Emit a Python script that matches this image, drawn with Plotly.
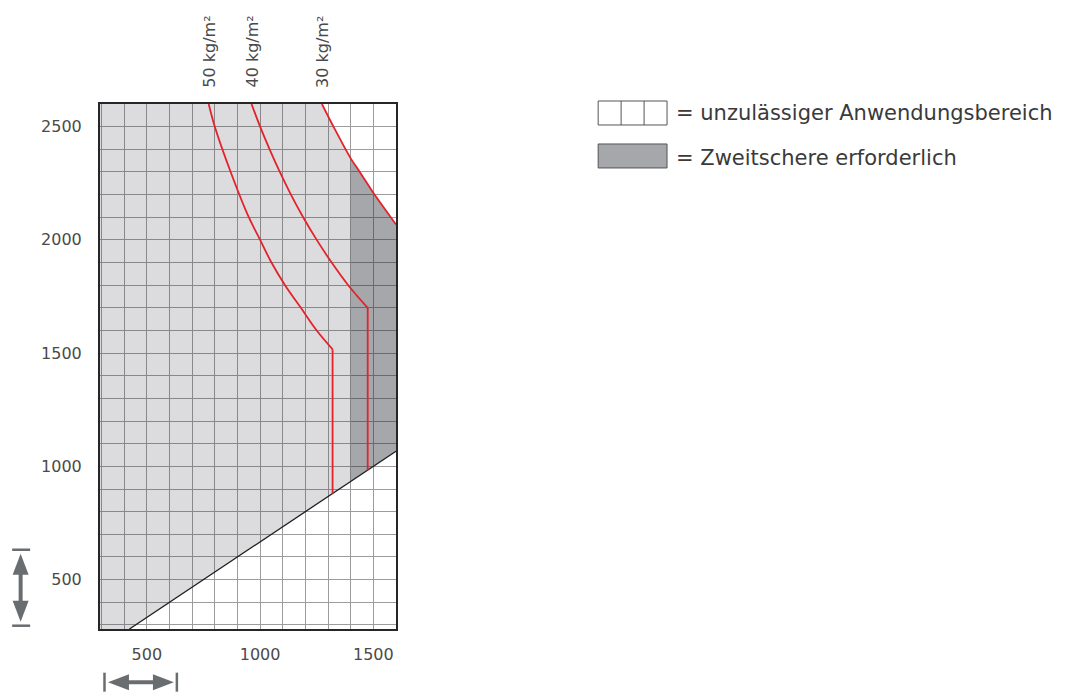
import plotly.graph_objects as go

# Axis extents (mm)
X_RANGE = [293, 1600]
Y_RANGE = [282, 2600]

# Limit curves: width (x) / height (y) in mm
curve50_x = [773, 800, 870, 950, 1000, 1050, 1110, 1180, 1250, 1320, 1320]
curve50_y = [2600, 2500, 2300, 2100, 2000, 1900, 1800, 1700, 1600, 1517, 880]

curve40_x = [962, 1000, 1042, 1087, 1136, 1190, 1250, 1316, 1389, 1475, 1475]
curve40_y = [2600, 2500, 2400, 2300, 2200, 2100, 2000, 1900, 1800, 1700, 983]

curve30_x = [1273, 1324, 1400, 1440, 1505, 1577, 1600]
curve30_y = [2600, 2500, 2360, 2300, 2200, 2100, 2068]

# Lower boundary of the admissible range
diag_x = [423, 1400, 1600]
diag_y = [282, 933, 1067]

# Start of the zone where a second scissor arm is needed
split_x = 1400

curve_labels = ["50 kg/m²", "40 kg/m²", "30 kg/m²"]
legend_texts = ["= unzulässiger Anwendungsbereich", "= Zweitschere erforderlich"]

FONT = "DejaVu Sans"
TEXT = "#4a4a4a"
RED = "#e3232b"
ARROW = "#6a6d70"
LIGHT_FILL = "rgba(30,35,45,0.155)"
DARK_FILL = "rgba(30,35,45,0.40)"

fig = go.Figure()

# Admissible area left of the split
i_split = curve30_x.index(split_x)
d_split = diag_x.index(split_x)
light_x = [X_RANGE[0], X_RANGE[0]] + curve30_x[: i_split + 1] + [split_x] + diag_x[:d_split][::-1]
light_y = [Y_RANGE[0], Y_RANGE[1]] + curve30_y[: i_split + 1] + [diag_y[d_split]] + diag_y[:d_split][::-1]
fig.add_trace(go.Scatter(x=light_x, y=light_y, fill="toself", fillcolor=LIGHT_FILL,
                         mode="none", hoverinfo="skip"))

# Area requiring a second scissor arm
dark_x = curve30_x[i_split:] + diag_x[d_split:][::-1]
dark_y = curve30_y[i_split:] + diag_y[d_split:][::-1]
fig.add_trace(go.Scatter(x=dark_x, y=dark_y, fill="toself", fillcolor=DARK_FILL,
                         mode="none", hoverinfo="skip"))

# Diagonal boundary
fig.add_trace(go.Scatter(x=diag_x, y=diag_y, mode="lines",
                         line=dict(color="#1e1e1e", width=1.3), hoverinfo="skip"))

# Weight curves: smooth hyperbolic part, then the straight vertical drop
for cx, cy in [(curve50_x, curve50_y), (curve40_x, curve40_y)]:
    fig.add_trace(go.Scatter(x=cx[:-1], y=cy[:-1], mode="lines",
                             line=dict(color=RED, width=1.8, shape="spline", smoothing=1.0),
                             hoverinfo="skip"))
    fig.add_trace(go.Scatter(x=cx[-2:], y=cy[-2:], mode="lines",
                             line=dict(color=RED, width=1.8), hoverinfo="skip"))
fig.add_trace(go.Scatter(x=curve30_x, y=curve30_y, mode="lines",
                         line=dict(color=RED, width=1.8, shape="spline", smoothing=1.0),
                         hoverinfo="skip"))

# Rotated labels above each curve
for lab, cx in zip(curve_labels, [curve50_x[0], curve40_x[0], curve30_x[0]]):
    fig.add_annotation(x=cx, y=1, xref="x", yref="paper", text=lab, showarrow=False,
                       textangle=-90, xanchor="center", yanchor="bottom", yshift=14,
                       font=dict(family=FONT, size=16, color=TEXT))

# Pixel -> paper helpers for the decorations outside the plot area
L, T, W, H = 100, 104, 296.5, 525.3


def px(x):
    return (x - L) / W


def py(y):
    return (T + H - y) / H


shapes = []
# Legend row 1: three empty cells
shapes.append(dict(type="rect", xref="paper", yref="paper", x0=px(599), x1=px(668),
                   y0=py(125), y1=py(101), line=dict(color="#555", width=1), fillcolor="white"))
for xc in (622, 645):
    shapes.append(dict(type="line", xref="paper", yref="paper", x0=px(xc), x1=px(xc),
                       y0=py(125), y1=py(101), line=dict(color="#555", width=1)))
# Legend row 2: filled box
shapes.append(dict(type="rect", xref="paper", yref="paper", x0=px(599), x1=px(668),
                   y0=py(168), y1=py(144), line=dict(color="#555", width=1),
                   fillcolor="#a6a7ab"))

# Vertical dimension arrow
vx = 20.5
shapes += [
    dict(type="line", xref="paper", yref="paper", x0=px(12), x1=px(30), y0=py(550), y1=py(550),
         line=dict(color=ARROW, width=2.5)),
    dict(type="line", xref="paper", yref="paper", x0=px(12), x1=px(30), y0=py(626), y1=py(626),
         line=dict(color=ARROW, width=2.5)),
    dict(type="rect", xref="paper", yref="paper", x0=px(vx - 2), x1=px(vx + 2), y0=py(605), y1=py(570),
         line=dict(width=0), fillcolor=ARROW),
    dict(type="path", xref="paper", yref="paper",
         path=f"M {px(vx)},{py(554)} L {px(vx - 8)},{py(575)} L {px(vx + 8)},{py(575)} Z",
         line=dict(width=0), fillcolor=ARROW),
    dict(type="path", xref="paper", yref="paper",
         path=f"M {px(vx)},{py(622)} L {px(vx - 8)},{py(601)} L {px(vx + 8)},{py(601)} Z",
         line=dict(width=0), fillcolor=ARROW),
]
# Horizontal dimension arrow
hy = 682.5
shapes += [
    dict(type="line", xref="paper", yref="paper", x0=px(104.5), x1=px(104.5), y0=py(673), y1=py(692),
         line=dict(color=ARROW, width=2.5)),
    dict(type="line", xref="paper", yref="paper", x0=px(177), x1=px(177), y0=py(673), y1=py(692),
         line=dict(color=ARROW, width=2.5)),
    dict(type="rect", xref="paper", yref="paper", x0=px(125), x1=px(158), y0=py(hy + 2), y1=py(hy - 2),
         line=dict(width=0), fillcolor=ARROW),
    dict(type="path", xref="paper", yref="paper",
         path=f"M {px(108)},{py(hy)} L {px(129)},{py(hy - 8)} L {px(129)},{py(hy + 8)} Z",
         line=dict(width=0), fillcolor=ARROW),
    dict(type="path", xref="paper", yref="paper",
         path=f"M {px(174)},{py(hy)} L {px(153)},{py(hy - 8)} L {px(153)},{py(hy + 8)} Z",
         line=dict(width=0), fillcolor=ARROW),
]

for txt, yc in zip(legend_texts, (113, 158)):
    fig.add_annotation(x=px(675), y=py(yc), xref="paper", yref="paper", text=txt,
                       showarrow=False, xanchor="left", yanchor="middle",
                       font=dict(family=FONT, size=21, color="#3a3a3a"))

grid = "#9c9c9c"
axis_common = dict(
    showline=True, mirror=True, linecolor="#262626", linewidth=2,
    showgrid=True, gridcolor=grid, gridwidth=1.4,
    minor=dict(dtick=100, tick0=0, showgrid=True, gridcolor=grid, gridwidth=1.4),
    dtick=500, tick0=0, ticks="", zeroline=False,
    tickfont=dict(family=FONT, size=16, color=TEXT),
    fixedrange=True,
)

fig.update_layout(
    width=1066, height=693,
    margin=dict(l=100, r=669.5, t=104, b=63.7),
    paper_bgcolor="white", plot_bgcolor="white",
    showlegend=False,
    shapes=shapes,
    xaxis=dict(range=X_RANGE, ticklabelstandoff=10, **axis_common),
    yaxis=dict(range=Y_RANGE, ticklabelstandoff=13, **axis_common),
)

fig.write_html("out.html")
